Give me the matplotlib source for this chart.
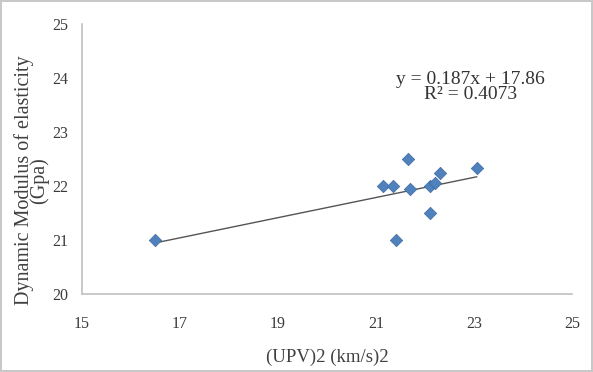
import matplotlib
matplotlib.use("Agg")
import matplotlib.pyplot as plt
import numpy as np

# Squared pulse velocity vs dynamic modulus readings
upv_sq = [16.5, 21.15, 21.35, 21.4, 21.65, 21.7, 22.1, 22.1, 22.2, 22.3, 23.05]
modulus = [21.0, 22.0, 22.0, 21.0, 22.5, 21.95, 21.5, 22.0, 22.05, 22.25, 22.33]

# Linear trend reported on the chart
slope = 0.187
intercept = 17.86
r_squared = 0.4073

x_ticks = [15, 17, 19, 21, 23, 25]
y_ticks = [20, 21, 22, 23, 24, 25]


def main() -> None:
    plt.rcParams["font.family"] = ["Liberation Serif", "DejaVu Serif"]

    fig = plt.figure(figsize=(5.93, 3.72), dpi=100, edgecolor="#c8c8c8", linewidth=1.5)
    ax = fig.add_axes([0.138, 0.21, 0.827, 0.725])

    ax.scatter(upv_sq, modulus, marker="D", s=40, color="#4f81bd", edgecolors="#3c6a9e",
               linewidths=0.5, zorder=3)

    x_line = np.array([min(upv_sq), max(upv_sq)])
    ax.plot(x_line, slope * x_line + intercept, color="#555555", linewidth=1.0, zorder=2)

    ax.text(22.92, 23.84, f"y = {slope}x + {intercept}\nR\u00b2 = {r_squared}",
            ha="center", va="center", fontsize=14, color="#333333", linespacing=0.85)

    ax.set_xlim(15, 25)
    ax.set_ylim(20, 25)
    ax.set_xticks(x_ticks)
    ax.set_yticks(y_ticks)
    ax.tick_params(length=0, labelsize=11.5, labelcolor="#3a3a3a")
    ax.tick_params(axis="y", pad=10)
    ax.tick_params(axis="x", pad=16)

    for side in ["top", "right"]:
        ax.spines[side].set_visible(False)
    for side in ["left", "bottom"]:
        ax.spines[side].set_color("#c0c0c0")
        ax.spines[side].set_linewidth(1.2)

    ax.set_xlabel("(UPV)2 (km/s)2", fontsize=13.5, color="#404040", labelpad=12)
    ax.set_ylabel("Dynamic Modulus of elasticity\n(Gpa)", fontsize=14.5, color="#404040",
                  linespacing=0.72)
    ax.yaxis.set_label_coords(-0.066, 0.42)

    fig.savefig("out.png", dpi=100)


if __name__ == "__main__":
    main()
